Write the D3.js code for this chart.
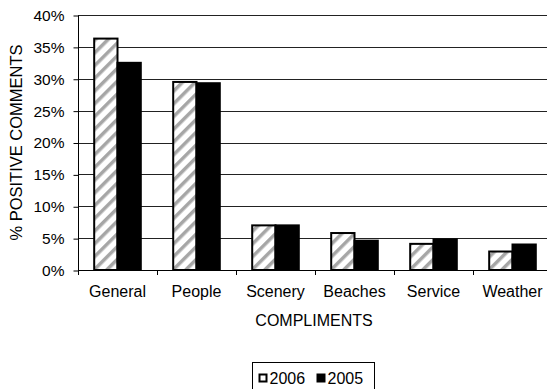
<!DOCTYPE html>
<html>
<head>
<meta charset="utf-8">
<script src="https://cdn.jsdelivr.net/npm/d3@7/dist/d3.min.js"></script>
<style>
  body { margin: 0; background: #fff; }
  text { font-family: "Liberation Sans", Arial, sans-serif; fill: #000; }
</style>
</head>
<body>
<div id="chart"></div>
<script>
const categories = ['General', 'People', 'Scenery', 'Beaches', 'Service', 'Weather'];
const series = ['2006', '2005'];
const values2006 = [36.3, 29.5, 7.0, 5.8, 4.1, 2.9];
const values2005 = [32.5, 29.3, 7.0, 4.6, 4.8, 4.0];
const yTicks = [0, 5, 10, 15, 20, 25, 30, 35, 40];

const width = 547;
const height = 389;
const plotLeft = 78, plotRight = 552, plotTop = 15, plotBottom = 270;

const data = categories.map((c, i) => ({ cat: c, v2006: values2006[i], v2005: values2005[i] }));

const svg = d3.select('#chart')
  .append('svg')
  .attr('width', width)
  .attr('height', height);

const defs = svg.append('defs');
const pat = defs.append('pattern')
  .attr('id', 'stripes')
  .attr('patternUnits', 'userSpaceOnUse')
  .attr('width', 9)
  .attr('height', 9)
  .attr('patternTransform', 'rotate(45)');
pat.append('rect').attr('width', 9).attr('height', 9).attr('fill', '#fff');
pat.append('rect').attr('x', 0).attr('width', 3.5).attr('height', 9).attr('fill', '#a6a6a6');

const xScale = d3.scaleBand()
  .domain(categories)
  .range([plotLeft, plotRight])
  .paddingInner(0.41)
  .paddingOuter(0.205);

const xSub = d3.scaleBand()
  .domain(series)
  .range([0, xScale.bandwidth()]);

const yScale = d3.scaleLinear()
  .domain([0, 40])
  .range([plotBottom, plotTop]);

// gridlines
svg.append('g')
  .selectAll('line')
  .data(yTicks.filter(d => d > 0))
  .join('line')
  .attr('x1', plotLeft)
  .attr('x2', plotRight)
  .attr('y1', d => Math.round(yScale(d)) + 0.5)
  .attr('y2', d => Math.round(yScale(d)) + 0.5)
  .attr('stroke', '#222')
  .attr('stroke-width', 1);

// bars
const groups = svg.append('g')
  .selectAll('g')
  .data(data)
  .join('g')
  .attr('transform', d => `translate(${xScale(d.cat)},0)`);

groups.append('rect')
  .attr('x', xSub('2006'))
  .attr('y', d => yScale(d.v2006))
  .attr('width', xSub.bandwidth())
  .attr('height', d => yScale(0) - yScale(d.v2006))
  .attr('fill', 'url(#stripes)')
  .attr('stroke', '#000')
  .attr('stroke-width', 2);

groups.append('rect')
  .attr('x', xSub('2005'))
  .attr('y', d => yScale(d.v2005))
  .attr('width', xSub.bandwidth())
  .attr('height', d => yScale(0) - yScale(d.v2005))
  .attr('fill', '#000')
  .attr('stroke', '#000')
  .attr('stroke-width', 2);

// y axis
const yAxis = d3.axisLeft(yScale)
  .tickValues(yTicks)
  .tickSize(5)
  .tickPadding(9)
  .tickFormat(d => d + '%');

const gy = svg.append('g')
  .attr('transform', `translate(${plotLeft + 0.5},0.5)`)
  .call(yAxis);
gy.select('.domain').attr('d', `M0,${plotTop}V${plotBottom}`).attr('stroke', '#000');
gy.selectAll('line').attr('stroke', '#000');
gy.selectAll('text').style('font-size', '15.5px').style('font-family', '"Liberation Sans", Arial, sans-serif');

// x axis: ticks at category boundaries
const bounds = d3.range(categories.length + 1).map(i => plotLeft + i * xScale.step());
const gx = svg.append('g');
gx.append('line')
  .attr('x1', plotLeft).attr('x2', plotRight)
  .attr('y1', plotBottom + 0.5).attr('y2', plotBottom + 0.5)
  .attr('stroke', '#000');
gx.selectAll('line.tick')
  .data(bounds)
  .join('line')
  .attr('class', 'tick')
  .attr('x1', d => Math.round(d) + 0.5)
  .attr('x2', d => Math.round(d) + 0.5)
  .attr('y1', plotBottom)
  .attr('y2', plotBottom + 5)
  .attr('stroke', '#000');
gx.selectAll('text')
  .data(categories)
  .join('text')
  .attr('x', d => xScale(d) + xScale.bandwidth() / 2)
  .attr('y', 297)
  .attr('text-anchor', 'middle')
  .style('font-size', '16px')
  .text(d => d);

// axis titles
svg.append('text')
  .attr('x', 314)
  .attr('y', 326)
  .attr('text-anchor', 'middle')
  .style('font-size', '16px')
  .text('COMPLIMENTS');

svg.append('text')
  .attr('transform', `translate(22,${(plotTop + plotBottom) / 2}) rotate(-90)`)
  .attr('text-anchor', 'middle')
  .style('font-size', '16.5px')
  .text('% POSITIVE COMMENTS');

// legend
const legend = svg.append('g').attr('transform', 'translate(252.5,362.5)');
legend.append('rect')
  .attr('width', 122)
  .attr('height', 40)
  .attr('fill', '#fff')
  .attr('stroke', '#000');

const items = legend.selectAll('g')
  .data(series)
  .join('g')
  .attr('transform', (d, i) => `translate(${6 + i * 58},0)`);
items.append('rect')
  .attr('x', 1).attr('y', 12)
  .attr('width', 7).attr('height', 7)
  .attr('fill', d => d === '2006' ? '#fff' : '#000')
  .attr('stroke', '#000')
  .attr('stroke-width', 2);
items.append('text')
  .attr('x', 11)
  .attr('y', 21)
  .style('font-size', '16px')
  .text(d => d);
</script>
</body>
</html>
